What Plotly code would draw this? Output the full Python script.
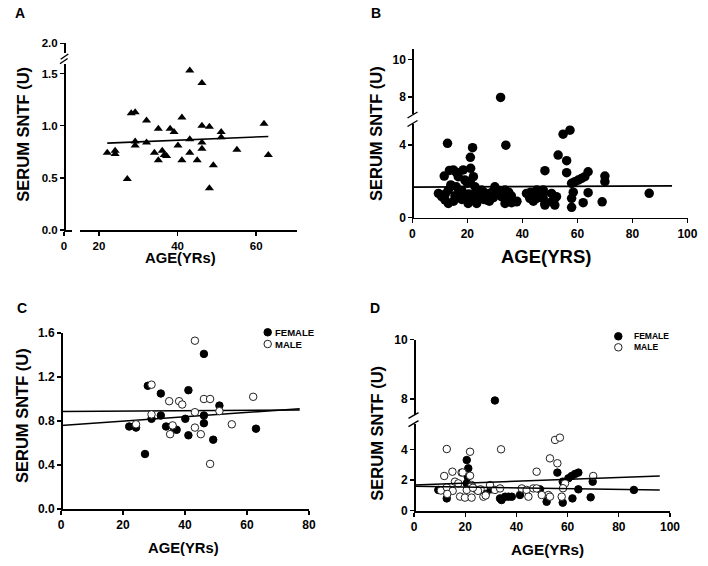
import plotly.graph_objects as go

W, H = 708, 566
FONT = "Liberation Sans, Arial, sans-serif"

# ---------------- data ----------------
# Panel A: all subjects
a_age = [22.1, 24.1, 24.1, 27.2, 28.2, 29.2, 29.2, 29.2, 32.1, 32.1, 34.1, 35.1, 35.1,
         36.1, 36.6, 37.2, 38.1, 39.1, 40.1, 41.1, 41.1, 43.1, 43.1, 43.1, 45.0, 46.2,
         46.2, 46.2, 46.2, 48.1, 48.1, 49.1, 51.1, 51.1, 55.1, 62.0, 63.1]
a_sntf = [0.74, 0.76, 0.73, 0.49, 1.12, 1.13, 0.85, 0.81, 1.05, 0.84, 0.74, 0.97, 0.67,
          0.76, 0.72, 0.71, 0.97, 0.94, 0.81, 1.08, 0.67, 1.53, 0.87, 0.74, 0.67, 1.41,
          1.00, 0.84, 0.78, 0.99, 0.40, 0.62, 0.94, 0.89, 0.77, 1.02, 0.72]
a_fit_age = [22.1, 63.1]
a_fit_sntf = [0.833, 0.897]

# Panel B: all subjects
b_age = [9.5, 10.7, 11.9, 13.1, 11.6, 13.1, 12.8, 14.9, 16.7, 17.3, 18.5, 19.1, 19.7, 20.3,
         21.1, 21.2, 22.2, 21.9, 22.8, 22.8, 23.4, 25.2, 27.0, 28.2, 30.0, 32.1, 32.4, 33.7,
         33.7, 34.0, 34.9, 36.1, 37.9, 41.5, 42.7, 43.9, 45.2, 45.2, 47.6, 48.2, 50.6, 50.6,
         48.2, 53.0, 54.8, 57.3, 56.1, 56.1, 63.9, 62.7, 61.5, 60.3, 59.1, 57.9, 70.0, 70.0,
         63.9, 69.0, 62.1, 86.1, 57.9, 57.9, 58.5, 47.6, 47.6, 48.2, 51.8, 51.8, 52.4,
         14.0, 15.5, 16.0, 18.0, 18.0, 20.0, 20.5, 24.0, 26.0, 26.0, 28.0, 29.0, 31.0, 35.0,
         36.0, 38.0, 43.0, 44.0, 46.0, 16.0, 13.5, 12.0, 15.0, 22.0, 21.0, 29.5]
b_sntf = [1.33, 1.15, 0.97, 0.78, 2.29, 1.52, 4.10, 2.63, 2.26, 1.33, 2.63, 2.07, 1.06, 0.78,
          3.33, 2.72, 2.26, 3.86, 1.70, 1.33, 0.78, 1.52, 0.97, 1.33, 1.70, 7.98, 1.15, 1.52,
          0.78, 4.00, 0.97, 0.82, 0.87, 1.33, 1.06, 1.33, 1.52, 1.06, 1.33, 0.78, 1.33, 0.87,
          2.59, 3.45, 4.61, 4.83, 3.14, 2.48, 2.53, 2.26, 2.16, 2.07, 1.98, 1.89, 2.29, 1.98,
          1.37, 0.87, 0.82, 1.34, 0.56, 1.06, 1.40, 1.52, 1.06, 0.69, 1.06, 0.69, 1.15,
          1.80, 1.20, 1.70, 1.50, 1.00, 1.90, 1.30, 1.20, 1.00, 1.40, 0.90, 1.40, 1.50, 1.40,
          1.20, 0.90, 1.40, 0.90, 1.20, 2.50, 2.60, 1.30, 0.90, 1.00, 2.00, 1.10]
b_fit_age = [0, 94.4]
b_fit_sntf = [1.68, 1.75]

# Panel C: by gender
c_f_age = [22.0, 24.2, 27.1, 28.0, 29.2, 32.2, 32.2, 33.9, 36.5, 37.3, 40.1, 41.1, 41.1,
           46.1, 46.1, 46.1, 49.1, 51.1, 62.9]
c_f_sntf = [0.75, 0.74, 0.50, 1.12, 0.82, 1.05, 0.85, 0.75, 0.73, 0.72, 0.82, 1.08, 0.67,
            1.41, 0.85, 0.78, 0.63, 0.94, 0.73]
c_m_age = [24.2, 29.2, 29.2, 34.9, 35.2, 36.0, 38.1, 39.1, 43.2, 43.2, 43.2, 45.1, 46.1,
           48.1, 48.1, 51.1, 55.1, 62.0]
c_m_sntf = [0.77, 1.13, 0.86, 0.98, 0.68, 0.76, 0.98, 0.95, 1.53, 0.88, 0.74, 0.68, 1.00,
            1.00, 0.41, 0.89, 0.77, 1.02]
c_fit_age = [0, 77]
c_fit1_sntf = [0.886, 0.900]
c_fit2_sntf = [0.760, 0.912]

# Panel D: by gender
d_f_age = [31.6, 20.6, 21.2, 9.5, 12.8, 20.6, 33.6, 35.6, 36.9, 38.2, 34.2, 41.4, 51.8, 56.0,
           58.1, 60.3, 61.6, 62.9, 64.2, 69.8, 64.2, 61.9, 69.0, 85.9, 58.1, 49.2, 21.0, 28.0,
           30.0]
d_f_sntf = [7.95, 3.31, 2.77, 1.36, 0.81, 1.79, 0.81, 0.92, 0.92, 0.92, 0.70, 1.03, 0.59, 2.49,
            1.90, 2.12, 2.27, 2.40, 2.49, 1.90, 1.40, 0.81, 0.88, 1.36, 0.53, 1.40, 2.20, 1.10,
            1.40]
d_m_age = [12.8, 21.9, 34.0, 47.9, 55.1, 57.0, 53.1, 56.0, 70.0, 59.0, 58.2, 57.7, 52.5, 11.8,
           15.0, 18.6, 16.0, 17.3, 22.5, 10.5, 12.8, 15.1, 18.0, 19.9, 20.6, 22.5, 24.5, 27.1,
           29.7, 31.6, 33.6, 42.1, 44.0, 44.7, 46.6, 47.9, 49.9, 53.1, 21.9, 26.0, 25.0, 28.0,
           13.0, 19.0, 23.0]
d_m_sntf = [4.03, 3.85, 4.01, 2.55, 4.62, 4.77, 3.42, 3.10, 2.27, 1.79, 1.47, 0.92, 1.03, 2.27,
            2.55, 2.49, 1.90, 1.79, 1.68, 1.32, 1.53, 1.30, 0.93, 0.86, 1.36, 0.86, 1.36, 0.92,
            1.68, 1.36, 1.46, 1.46, 1.36, 0.92, 1.46, 1.46, 1.03, 0.92, 2.29, 1.40, 1.30, 1.00,
            1.10, 2.50, 1.50]
d_fit_age = [0, 96]
d_fit1_sntf = [1.69, 2.27]
d_fit2_sntf = [1.60, 1.36]

legend_labels = ["FEMALE", "MALE"]


# ---------------- helpers ----------------
def px(x):
    return x / W


def py(y):
    return 1 - y / H


def tfont(size):
    return dict(family=FONT, size=size, color="black", weight="bold")


def axis_common(fsize):
    return dict(showline=True, linecolor="black", linewidth=1.7, ticks="outside", ticklen=4,
                tickwidth=1.4, tickcolor="black", showgrid=False, zeroline=False,
                tickfont=tfont(fsize), fixedrange=True)


def xax(x0, x1, rng, tickvals, anchor, fsize=12):
    d = axis_common(fsize)
    d.update(domain=[px(x0), px(x1)], range=rng, tickvals=tickvals, anchor=anchor)
    return d


def yax(ybot, ytop, rng, tickvals, xpos, fsize=12, fmt=None):
    d = axis_common(fsize)
    d.update(domain=[py(ybot), py(ytop)], range=rng, tickvals=tickvals, anchor="free",
             position=px(xpos))
    if fmt:
        d["tickformat"] = fmt
    return d


def split(xs, ys, lo, hi):
    pts = [(a, b) for a, b in zip(xs, ys) if lo <= b <= hi]
    return [p[0] for p in pts], [p[1] for p in pts]


fig = go.Figure()

# ---------------- Panel A ----------------
fig.add_trace(go.Scatter(x=a_age, y=a_sntf, mode="markers", xaxis="x", yaxis="y",
                         marker=dict(symbol="triangle-up", size=8, color="black"),
                         cliponaxis=False, showlegend=False))
fig.add_trace(go.Scatter(x=a_fit_age, y=a_fit_sntf, mode="lines", xaxis="x", yaxis="y",
                         line=dict(color="black", width=1.6), showlegend=False))
fig.add_trace(go.Scatter(x=[], y=[], xaxis="x2", yaxis="y", showlegend=False))
fig.add_trace(go.Scatter(x=[], y=[], xaxis="x", yaxis="y2", showlegend=False))

# ---------------- Panel B ----------------
bx_lo, by_lo = split(b_age, b_sntf, 0, 6)
bx_hi, by_hi = split(b_age, b_sntf, 6, 11)
bmark = dict(symbol="circle", size=9.5, color="black")
fig.add_trace(go.Scatter(x=bx_lo, y=by_lo, mode="markers", xaxis="x3", yaxis="y3",
                         marker=bmark, cliponaxis=False, showlegend=False))
fig.add_trace(go.Scatter(x=bx_hi, y=by_hi, mode="markers", xaxis="x3", yaxis="y4",
                         marker=bmark, cliponaxis=False, showlegend=False))
fig.add_trace(go.Scatter(x=b_fit_age, y=b_fit_sntf, mode="lines", xaxis="x3", yaxis="y3",
                         line=dict(color="black", width=1.6), showlegend=False))

# ---------------- Panel C ----------------
fmark = dict(symbol="circle", size=7.5, color="black", line=dict(color="black", width=1))
mmark = dict(symbol="circle", size=7.5, color="white", line=dict(color="#222", width=1))
fig.add_trace(go.Scatter(x=c_fit_age, y=c_fit1_sntf, mode="lines", xaxis="x4", yaxis="y5",
                         line=dict(color="black", width=1.5), showlegend=False))
fig.add_trace(go.Scatter(x=c_fit_age, y=c_fit2_sntf, mode="lines", xaxis="x4", yaxis="y5",
                         line=dict(color="black", width=1.5), showlegend=False))
fig.add_trace(go.Scatter(x=c_f_age, y=c_f_sntf, mode="markers", xaxis="x4", yaxis="y5",
                         marker=fmark, cliponaxis=False, showlegend=False))
fig.add_trace(go.Scatter(x=c_m_age, y=c_m_sntf, mode="markers", xaxis="x4", yaxis="y5",
                         marker=mmark, cliponaxis=False, showlegend=False))

# ---------------- Panel D ----------------
dfx_lo, dfy_lo = split(d_f_age, d_f_sntf, 0, 6)
dfx_hi, dfy_hi = split(d_f_age, d_f_sntf, 6, 11)
dmx_lo, dmy_lo = split(d_m_age, d_m_sntf, 0, 6)
fig.add_trace(go.Scatter(x=dfx_lo, y=dfy_lo, mode="markers", xaxis="x5", yaxis="y6",
                         marker=fmark, cliponaxis=False, showlegend=False))
fig.add_trace(go.Scatter(x=dmx_lo, y=dmy_lo, mode="markers", xaxis="x5", yaxis="y6",
                         marker=mmark, cliponaxis=False, showlegend=False))
fig.add_trace(go.Scatter(x=dfx_hi, y=dfy_hi, mode="markers", xaxis="x5", yaxis="y7",
                         marker=fmark, cliponaxis=False, showlegend=False))
fig.add_trace(go.Scatter(x=d_fit_age, y=d_fit1_sntf, mode="lines", xaxis="x5", yaxis="y6",
                         line=dict(color="black", width=1.5), showlegend=False))
fig.add_trace(go.Scatter(x=d_fit_age, y=d_fit2_sntf, mode="lines", xaxis="x5", yaxis="y6",
                         line=dict(color="black", width=1.5), showlegend=False))

# ---------------- legend keys (pixel overlay axis) ----------------
key_x = [267.7, 267.7, 618.3, 618.3]
key_y = [332.3, 344.0, 336.3, 347.3]
fig.add_trace(go.Scatter(x=[key_x[0], key_x[2]], y=[key_y[0], key_y[2]], mode="markers",
                         xaxis="x6", yaxis="y8", marker=fmark, cliponaxis=False,
                         showlegend=False, hoverinfo="skip"))
fig.add_trace(go.Scatter(x=[key_x[1], key_x[3]], y=[key_y[1], key_y[3]], mode="markers",
                         xaxis="x6", yaxis="y8", marker=mmark, cliponaxis=False,
                         showlegend=False, hoverinfo="skip"))

layout = dict(
    width=W, height=H, margin=dict(l=0, r=0, t=0, b=0),
    paper_bgcolor="white", plot_bgcolor="rgba(0,0,0,0)", template="none",
    showlegend=False,
    # A
    xaxis=xax(80, 297, [15.16, 70.4], [20, 40, 60], "y", 11.5),
    xaxis2=xax(64, 72, [0, 2.04], [0], "y", 11.5),
    yaxis=yax(230, 63.6, [0, 1.596], [0, 0.5, 1.0, 1.5], 64, 11.5, ".1f"),
    yaxis2=yax(53, 43.3, [1.9, 2.0], [2.0], 64, 11.5, ".1f"),
    # B
    xaxis3=xax(412.3, 688, [0, 100.2], [0, 20, 40, 60, 80, 100], "y3", 12),
    yaxis3=yax(217.5, 124, [0, 5.17], [0, 4], 412.3, 12),
    yaxis4=yax(114, 49.3, [7.1, 10.53], [8, 10], 412.3, 12),
    # C
    xaxis4=xax(61, 309, [0, 80], [0, 20, 40, 60, 80], "y5", 12),
    yaxis5=yax(509, 333, [0, 1.6], [0, 0.4, 0.8, 1.2, 1.6], 61, 12, ".1f"),
    # D
    xaxis5=xax(414, 670, [0, 100], [0, 20, 40, 60, 80, 100], "y6", 12),
    yaxis6=yax(510.8, 424, [0, 5.66], [0, 2, 4], 414, 12),
    yaxis7=yax(415, 339.7, [7.46, 10], [8, 10], 414, 12),
    # pixel overlay
    xaxis6=dict(domain=[0, 1], range=[0, W], visible=False, anchor="y8", fixedrange=True),
    yaxis8=dict(domain=[0, 1], range=[H, 0], visible=False, anchor="x6", fixedrange=True),
)
fig.update_layout(**layout)

# ---------------- texts ----------------
ann = []


def text(x, y, s, size, angle=0, xanchor="center"):
    ann.append(dict(x=px(x), y=py(y), xref="paper", yref="paper", text=s, showarrow=False,
                    font=tfont(size), textangle=angle, xanchor=xanchor, yanchor="middle"))


text(20, 13.5, "A", 14)
text(375.7, 13.5, "B", 14)
text(21.7, 308, "C", 14)
text(374.7, 308, "D", 14)
ytitle = "SERUM SNTF (U)"
text(22.7, 134, ytitle, 16.5, -90)
text(376.7, 133.3, ytitle, 16.5, -90)
text(22.7, 415.3, ytitle, 16.5, -90)
text(376.7, 433, ytitle, 16.5, -90)
text(180, 258.3, "AGE(YRs)", 14.8)
text(546.3, 256.7, "AGE(YRS)", 18.5)
text(183.3, 548, "AGE(YRs)", 14.8)
text(547.3, 549.7, "AGE(YRs)", 15.3)
text(273.3, 332.3, legend_labels[0], 9.5, xanchor="left")
text(273.3, 344.0, legend_labels[1], 9.5, xanchor="left")
text(632.3, 336.3, legend_labels[0], 8.5, xanchor="left")
text(632.3, 347.3, legend_labels[1], 8.5, xanchor="left")
fig.update_layout(annotations=ann)

# ---------------- axis break marks ----------------
breaks = [
    ((60.7, 59.3), (68.3, 54.0)), ((60.0, 63.8), (67.6, 58.5)),
    ((407.5, 118.0), (417.5, 112.0)), ((407.5, 126.5), (417.5, 120.5)),
    ((408.5, 418.3), (418.5, 412.7)), ((408.5, 426.7), (418.5, 420.7)),
]
shapes = []
for (x0, y0), (x1, y1) in breaks:
    shapes.append(dict(type="line", xref="paper", yref="paper", x0=px(x0), y0=py(y0),
                       x1=px(x1), y1=py(y1), line=dict(color="black", width=1.4)))
fig.update_layout(shapes=shapes)

fig.write_html("out.html", config={"displayModeBar": False, "staticPlot": True},
               post_script="document.body.style.margin='0px';document.body.style.padding='0px';")
